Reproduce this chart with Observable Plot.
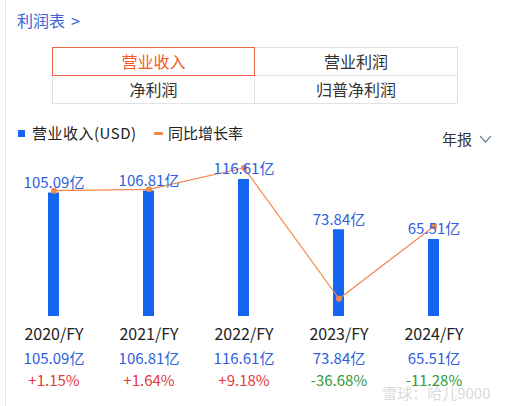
<!DOCTYPE html>
<html>
<head>
<meta charset="utf-8">
<script src="https://cdn.jsdelivr.net/npm/d3@7"></script>
<script src="https://cdn.jsdelivr.net/npm/@observablehq/plot@0.6"></script>
<style>
  html, body { margin: 0; padding: 0; background: #fff; }
  body { width: 505px; height: 406px; overflow: hidden; position: relative;
         font-family: "Noto Sans CJK SC", "Noto Sans", sans-serif; }
  .abs { position: absolute; white-space: nowrap; }
  #vline { left: 5px; top: 0; width: 1px; height: 406px; background: #e6e6e6; }
  #title { left: 17px; top: 10px; font-size: 16px; color: #3b63d6; line-height: 20px; }
  #title span { margin-left: 6px; }
  .cell { position: absolute; box-sizing: border-box; border: 1px solid #e2e2e2;
          font-size: 16px; color: #333; text-align: center; }
  #legend1sq { left: 18px; top: 130px; width: 7px; height: 7px; background: #1466f0; }
  #legend1 { left: 32px; top: 122px; font-size: 15px; color: #222; line-height: 22px; letter-spacing: 0.5px; }
  #legend2sq { left: 154px; top: 132px; width: 9px; height: 3px; background: #f2874a; border-radius: 1px; }
  #legend2 { left: 168px; top: 122px; font-size: 15px; color: #222; line-height: 22px; }
  #period { left: 442px; top: 128px; font-size: 15px; color: #333; line-height: 22px; }
  #chart { position: absolute; left: 0; top: 145px; }
</style>
</head>
<body>
<div class="abs" id="vline"></div>
<div class="abs" id="title">利润表<span>&gt;</span></div>
<div id="tabs"></div>
<div class="abs" id="legend1sq"></div>
<div class="abs" id="legend1">营业收入(USD)</div>
<div class="abs" id="legend2sq"></div>
<div class="abs" id="legend2">同比增长率</div>
<div class="abs" id="period">年报</div>
<svg class="abs" style="left:478px;top:133px" width="16" height="12"><polyline points="2,3 7.5,9 13,3" fill="none" stroke="#6f7f9a" stroke-width="1.2"/></svg>
<div id="chart"></div>
<script>
// ---- data ----
const years = ["2020/FY", "2021/FY", "2022/FY", "2023/FY", "2024/FY"];
const revenue = [105.09, 106.81, 116.61, 73.84, 65.51];      // 亿 USD
const revenueLabels = ["105.09亿", "106.81亿", "116.61亿", "73.84亿", "65.51亿"];
const growth = [1.15, 1.64, 9.18, -36.68, -11.28];           // %
const growthLabels = ["+1.15%", "+1.64%", "+9.18%", "-36.68%", "-11.28%"];
const tabLabels = ["营业收入", "营业利润", "净利润", "归普净利润"];

// ---- tabs ----
const tabs = document.getElementById("tabs");
const tabGeo = [[52, 47, 203, 29], [254, 47, 204, 29], [52, 75, 203, 29], [254, 75, 204, 29]];
tabLabels.forEach((t, i) => {
  const d = document.createElement("div");
  d.className = "cell";
  const [l, tp, w, h] = tabGeo[i];
  d.style.left = l + "px"; d.style.top = tp + "px";
  d.style.width = w + "px"; d.style.height = h + "px";
  d.style.lineHeight = (h - 2) + "px";
  d.textContent = t;
  if (i === 0) { d.style.border = "1px solid #f0644a"; d.style.color = "#f05a2a"; d.style.zIndex = 2; }
  tabs.appendChild(d);
});

// ---- chart ----
const data = years.map((y, i) => ({
  year: y, rev: revenue[i], revLabel: revenueLabels[i],
  g: growth[i], gLabel: growthLabels[i]
}));
// secondary axis: growth (%) mapped into the revenue scale's domain
const g2y = d3.scaleLinear().domain([0, 10]).range([104.26, 128.57]);

const chart = Plot.plot({
  width: 505,
  height: 261,
  marginTop: 0, marginBottom: 0, marginLeft: 0, marginRight: 0,
  style: { fontFamily: "'Noto Sans CJK SC', 'Noto Sans', sans-serif", background: "transparent", overflow: "visible" },
  x: { type: "band", domain: years, range: [5.5, 480.5], padding: 0, axis: null },
  y: { domain: [0, 140], range: [171, 6.5], axis: null },
  marks: [
    Plot.ruleY([0], { x1: 17, x2: 495, stroke: "#e3e3e3", strokeWidth: 1.2 }),
    Plot.barY(data, { x: "year", y: "rev", fill: "#1466f0", insetLeft: 42, insetRight: 42 }),
    Plot.line(data, { x: "year", y: d => g2y(d.g), stroke: "#f2874a", strokeWidth: 1.2 }),
    Plot.dot(data, { x: "year", y: d => g2y(d.g), r: 3, fill: "#f2874a", stroke: "none" }),
    Plot.text(data, { x: "year", y: "rev", text: "revLabel", dy: -10, fill: "#2f5fe0", fontSize: 15, lineAnchor: "middle" }),
    Plot.text(data, { x: "year", y: () => 0, text: "year", dy: 18, fill: "#222", fontSize: 16, lineAnchor: "middle" }),
    Plot.text(data, { x: "year", y: () => 0, text: "revLabel", dy: 43, fill: "#2f5fe0", fontSize: 15, lineAnchor: "middle" }),
    Plot.text(data, { x: "year", y: () => 0, text: "gLabel", dy: 65, fill: d => d.g >= 0 ? "#e03a3a" : "#2f9a3e", fontSize: 15, lineAnchor: "middle" }),
    Plot.text(["雪球：哈儿9000"], { frameAnchor: "bottom-right", dx: -15, dy: -8, text: d => d, fill: "#d0d0d0", fillOpacity: 0.8, fontSize: 15, textAnchor: "end" })
  ]
});
document.getElementById("chart").appendChild(chart);
</script>
</body>
</html>
